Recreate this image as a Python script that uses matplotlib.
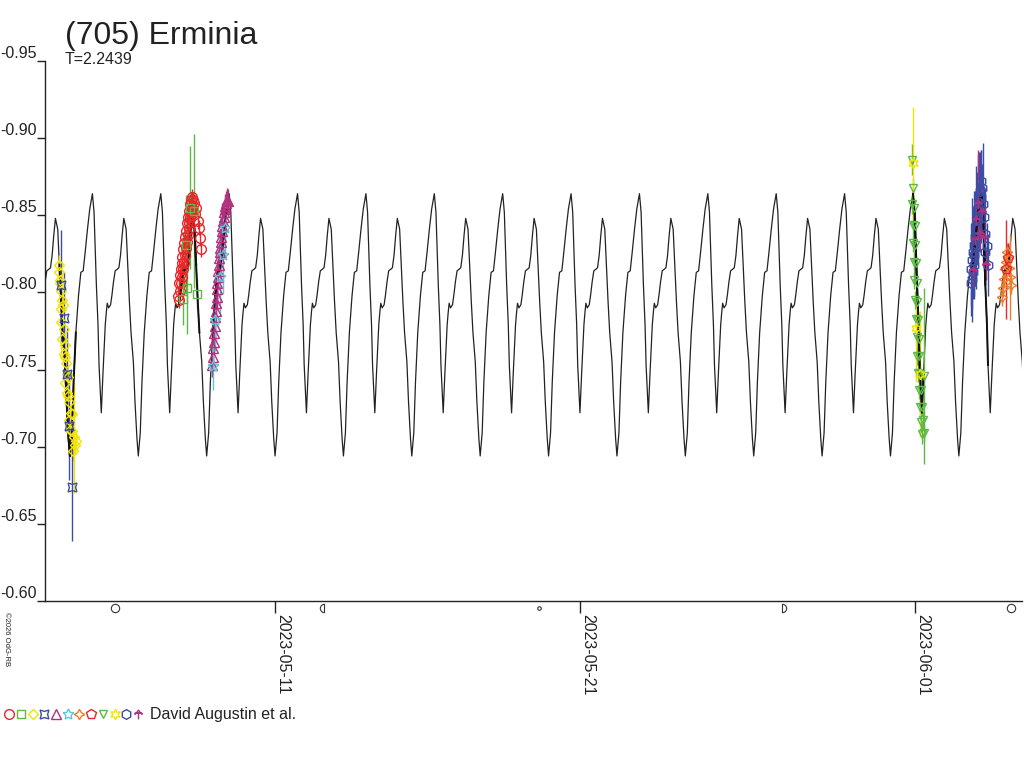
import matplotlib
matplotlib.use('Agg')
import numpy as np
import matplotlib.pyplot as plt
import matplotlib.dates as mdates
from matplotlib.path import Path
from matplotlib.transforms import blended_transform_factory

plt.rcParams['font.family'] = ['Liberation Sans', 'DejaVu Sans']
plt.rcParams['axes.unicode_minus'] = False

# times are days since 2023-05-01 00:00 UT, values are relative magnitudes
t0 = mdates.datestr2num('2023-05-01')
period = 2.2439
epoch = 15.215  # a maximum of the model curve

# one rotation of the model light curve (phase, mag)
prof_phase = [0.000, 0.024, 0.043, 0.058, 0.082, 0.097, 0.116, 0.130, 0.155, 0.188,
              0.203, 0.217, 0.237, 0.266, 0.285, 0.309, 0.333, 0.362, 0.387, 0.411,
              0.435, 0.459, 0.493, 0.517, 0.541, 0.565, 0.599, 0.623, 0.652, 0.671,
              0.700, 0.725, 0.758, 0.797, 0.831, 0.865, 0.894, 0.928, 0.961]
prof_mag = [-0.864, -0.852, -0.826, -0.805, -0.779, -0.753, -0.735, -0.722, -0.748, -0.779,
            -0.787, -0.793, -0.790, -0.792, -0.798, -0.807, -0.814, -0.815, -0.816, -0.824,
            -0.837, -0.848, -0.841, -0.818, -0.794, -0.774, -0.755, -0.729, -0.705, -0.694,
            -0.709, -0.742, -0.774, -0.798, -0.813, -0.814, -0.826, -0.841, -0.854]

# observers
t_red_o = [6.82, 6.83, 6.85, 6.86, 6.88, 6.89, 6.91, 6.92, 6.94, 6.95,
           6.97, 6.98, 7.00, 7.01, 7.03, 7.04, 7.06, 7.07, 7.09, 7.10,
           7.12, 7.13, 7.15, 7.16, 7.18, 7.19, 7.21, 7.22, 7.24, 7.25,
           7.27, 7.29, 7.31, 7.34, 7.37, 7.41, 7.45, 7.49, 7.53, 7.57]
m_red_o = [-0.798, -0.806, -0.795, -0.811, -0.801, -0.815, -0.806, -0.819, -0.810, -0.823,
           -0.815, -0.828, -0.819, -0.832, -0.824, -0.836, -0.829, -0.840, -0.833, -0.845,
           -0.837, -0.849, -0.841, -0.853, -0.845, -0.857, -0.849, -0.860, -0.852, -0.862,
           -0.855, -0.860, -0.853, -0.858, -0.851, -0.855, -0.846, -0.842, -0.835, -0.828]
e_red_o = [0.005] * 40

t_grn_s = [6.98, 7.06, 7.09, 7.20, 7.33, 7.42]
m_grn_s = [-0.796, -0.831, -0.803, -0.855, -0.853, -0.799]
e_grn_s = [0.017, 0.032, 0.030, 0.040, 0.050, 0.010]

t_yel_d = [2.90, 2.94, 2.89, 2.97, 2.92, 3.00, 2.95, 3.03, 2.98, 3.07,
           3.01, 3.10, 3.05, 3.13, 3.08, 3.17, 3.11, 3.20, 3.15, 3.24,
           3.19, 3.28, 3.23, 3.33, 3.27, 3.38, 3.31, 3.43, 3.36, 3.47]
m_yel_d = [-0.818, -0.808, -0.813, -0.801, -0.806, -0.795, -0.789, -0.792, -0.781, -0.776,
           -0.770, -0.766, -0.760, -0.754, -0.758, -0.747, -0.741, -0.745, -0.735, -0.729,
           -0.733, -0.722, -0.717, -0.721, -0.711, -0.706, -0.710, -0.701, -0.697, -0.704]
e_yel_d = [0.006, 0.006, 0.006, 0.006, 0.006, 0.006, 0.029, 0.006, 0.006, 0.006,
           0.006, 0.006, 0.006, 0.006, 0.006, 0.006, 0.006, 0.006, 0.006, 0.006,
           0.006, 0.006, 0.006, 0.006, 0.006, 0.036, 0.006, 0.006, 0.006, 0.006]

t_blu_x = [2.97, 3.07, 3.15, 3.24, 3.32]
m_blu_x = [-0.8045, -0.7833, -0.7472, -0.7136, -0.674]
e_blu_x = [0.036, 0.030, 0.030, 0.035, 0.035]

t_mag_t = [7.93, 7.95, 7.96, 7.98, 7.99, 8.01, 8.02, 8.04, 8.05, 8.07,
           8.08, 8.10, 8.11, 8.13, 8.14, 8.16, 8.17, 8.19, 8.20, 8.22,
           8.24, 8.26, 8.28, 8.30, 8.32, 8.34, 8.36, 8.38, 8.40, 8.43]
m_mag_t = [-0.753, -0.758, -0.764, -0.768, -0.774, -0.778, -0.784, -0.788, -0.793, -0.797,
           -0.802, -0.806, -0.810, -0.814, -0.818, -0.822, -0.826, -0.829, -0.833, -0.836,
           -0.840, -0.843, -0.846, -0.849, -0.852, -0.854, -0.856, -0.858, -0.860, -0.859]
e_mag_t = [0.008, 0.008, 0.015, 0.008, 0.008, 0.008, 0.015, 0.008, 0.008, 0.008,
           0.008, 0.015, 0.008, 0.008, 0.008, 0.008, 0.015, 0.008, 0.008, 0.008,
           0.008, 0.015, 0.008, 0.008, 0.008, 0.008, 0.008, 0.008, 0.008, 0.008]

t_cya_s = [7.96, 8.02, 8.19, 8.27, 8.35]
m_cya_s = [-0.752, -0.782, -0.810, -0.824, -0.842]
e_cya_s = [0.015, 0.020, 0.025, 0.025, 0.020]

t_org_s = [33.86, 33.89, 33.92, 33.95, 33.98, 34.01, 34.04, 34.07, 34.10, 34.13]
m_org_s = [-0.797, -0.803, -0.809, -0.815, -0.820, -0.826, -0.822, -0.816, -0.810, -0.805]
e_org_s = [0.006, 0.006, 0.006, 0.006, 0.006, 0.006, 0.006, 0.006, 0.028, 0.006]

t_red_p = [33.98, 34.05]
m_red_p = [-0.815, -0.822]
e_red_p = [0.032, 0.010]

t_grn_v = [30.90, 30.92, 30.89, 30.96, 30.92, 30.98, 30.93, 31.00, 30.95, 31.02,
           30.97, 31.04, 31.00, 31.06, 31.02, 31.09, 31.04, 31.11, 31.06, 31.13,
           31.08, 31.16, 31.11, 31.19, 31.14, 31.22, 31.17, 31.25, 31.21, 31.29, 31.30]
m_grn_v = [-0.886, -0.868, -0.857, -0.855, -0.844, -0.843, -0.832, -0.831, -0.820, -0.819,
           -0.808, -0.806, -0.795, -0.794, -0.783, -0.782, -0.771, -0.770, -0.759, -0.759,
           -0.748, -0.747, -0.737, -0.737, -0.726, -0.726, -0.716, -0.717, -0.708, -0.709, -0.746]
e_grn_v = [0.010] + [0.006] * 29 + [0.057]

t_yel_s = [30.93, 31.03, 31.16]
m_yel_s = [-0.884, -0.777, -0.747]
e_yel_s = [0.036, 0.035, 0.041]

t_blu_h = [32.82, 32.84, 32.85, 32.87, 32.88, 32.90, 32.91, 32.93, 32.94, 32.96,
           32.97, 32.99, 33.00, 33.02, 33.03, 33.05, 33.06, 33.08, 33.09, 33.11,
           33.12, 33.14, 33.16, 33.18, 33.21, 33.24, 33.27, 33.30, 33.35, 33.40]
m_blu_h = [-0.806, -0.815, -0.809, -0.821, -0.813, -0.826, -0.818, -0.831, -0.824, -0.836,
           -0.829, -0.842, -0.835, -0.848, -0.841, -0.855, -0.847, -0.861, -0.853, -0.866,
           -0.858, -0.872, -0.862, -0.868, -0.857, -0.849, -0.838, -0.826, -0.830, -0.818]
e_blu_h = [0.015, 0.030, 0.020, 0.040, 0.015, 0.030, 0.020, 0.035, 0.015, 0.030,
           0.020, 0.040, 0.015, 0.030, 0.020, 0.035, 0.015, 0.030, 0.020, 0.025,
           0.015, 0.020, 0.030, 0.015, 0.040, 0.020, 0.030, 0.020, 0.015, 0.020]

t_mag_a = [32.89, 32.95, 33.00, 33.05, 33.11, 33.18, 33.25, 33.31]
m_mag_a = [-0.814, -0.834, -0.847, -0.857, -0.838, -0.852, -0.835, -0.818]
e_mag_a = [0.010, 0.012, 0.010, 0.035, 0.012, 0.015, 0.010, 0.010]

moon_days = [4.73, 11.60, 18.66, 26.64, 34.15]
moon_kind = ['full', 'last', 'new', 'first', 'full']

date_ticks = ['2023-05-11', '2023-05-21', '2023-06-01']
y_ticks = [-0.95, -0.90, -0.85, -0.80, -0.75, -0.70, -0.65, -0.60]


# marker shapes
def ankh_marker():
    verts = [(0, 0.9), (-0.45, 0.3), (0.45, 0.3), (0, 0.9),
             (-0.8, 0.3), (0.8, 0.3),
             (-0.7, 0.3), (-0.7, -0.1),
             (0.7, 0.3), (0.7, -0.1),
             (0, 0.3), (0, -1.0)]
    codes = [Path.MOVETO, Path.LINETO, Path.LINETO, Path.CLOSEPOLY,
             Path.MOVETO, Path.LINETO,
             Path.MOVETO, Path.LINETO,
             Path.MOVETO, Path.LINETO,
             Path.MOVETO, Path.LINETO]
    return Path(verts, codes)


def half_disc(a1, a2):
    arc = Path.arc(a1, a2)
    v = np.vstack([arc.vertices, arc.vertices[:1]])
    c = list(arc.codes) + [Path.CLOSEPOLY]
    return Path(v, c)


RED = '#e8262b'
GRN = '#5cb946'
YEL = '#f2e400'
BLU = '#3b4ea3'
MAG = '#b3307f'
CYA = '#5fc6d8'
ORG = '#f07d2a'

series = [
    (t_red_o, m_red_o, e_red_o, 'o', 7.0, RED),
    (t_grn_s, m_grn_s, e_grn_s, 's', 5.4, GRN),
    (t_yel_d, m_yel_d, e_yel_d, 'D', 5.2, YEL),
    (t_blu_x, m_blu_x, e_blu_x, (4, 1, 45), 9.0, BLU),
    (t_mag_t, m_mag_t, e_mag_t, '^', 6.5, MAG),
    (t_cya_s, m_cya_s, e_cya_s, (5, 1, 0), 8.0, CYA),
    (t_org_s, m_org_s, e_org_s, (4, 1, 0), 7.5, ORG),
    (t_red_p, m_red_p, e_red_p, 'p', 7.0, RED),
    (t_grn_v, m_grn_v, e_grn_v, 'v', 6.0, GRN),
    (t_yel_s, m_yel_s, e_yel_s, (6, 1, 0), 7.5, YEL),
    (t_blu_h, m_blu_h, e_blu_h, 'h', 7.0, BLU),
    (t_mag_a, m_mag_a, e_mag_a, ankh_marker(), 7.0, MAG),
]

fig = plt.figure(figsize=(10.24, 7.68), dpi=100)
ax = fig.add_axes([45 / 1024, 1 - 601 / 768, 977 / 1024, 540 / 768])

# model curve, the read rotation repeated
ph = np.array(prof_phase)
cyc = np.arange(-6, 12)
t_model = (epoch + (cyc[:, None] + ph[None, :]) * period).ravel()
m_model = np.tile(prof_mag, len(cyc))
ax.plot(t0 + t_model, m_model, color='#222222', lw=0.9, zorder=2)

for t, m, e, mk, ms, col in series:
    ax.errorbar(t0 + np.array(t), m, yerr=e, fmt='none', ecolor=col, elinewidth=1.0,
                capsize=0, zorder=3)
    ax.plot(t0 + np.array(t), m, ls='none', marker=mk, ms=ms, mfc='none', mec=col,
            mew=1.0, zorder=4)
    # model drawn a little thicker across each observing run
    sel = (t_model >= min(t)) & (t_model <= max(t))
    if sel.sum() > 1:
        ax.plot(t0 + t_model[sel], m_model[sel], color='#111111', lw=1.4, zorder=3.5)

# moon phases under the axis
trans = blended_transform_factory(ax.transData, ax.transAxes)
for d, k in zip(moon_days, moon_kind):
    if k == 'full':
        mk, ms = 'o', 6
    elif k == 'new':
        mk, ms = 'o', 2.5
    elif k == 'first':
        mk, ms = half_disc(-90, 90), 6
    else:
        mk, ms = half_disc(90, 270), 6
    ax.plot([t0 + d], [-0.013], transform=trans, marker=mk, ms=ms, mfc='none',
            mec='#333333', mew=0.8, clip_on=False)

ax.set_xlim(t0 + 2.44, t0 + 34.50)
ax.set_ylim(-0.60, -0.95)

ax.set_xticks(mdates.datestr2num(date_ticks))
ax.set_xticklabels(date_ticks, rotation=-90, ha='left', va='top', fontsize=11.5,
                   color='#222222')
ax.tick_params(axis='x', length=8.5, width=1, pad=0.8, color='#222222')

ax.set_yticks(y_ticks)
ax.set_yticklabels(['%.2f' % v for v in y_ticks], fontsize=11.5, color='#222222')
ax.tick_params(axis='y', length=6, width=1, pad=0, color='#222222')
for lab in ax.get_yticklabels():
    lab.set_verticalalignment('bottom')

for s in ['top', 'right']:
    ax.spines[s].set_visible(False)
for s in ['left', 'bottom']:
    ax.spines[s].set_color('#222222')
    ax.spines[s].set_linewidth(1)

fig.text(65 / 1024, 1 - 44 / 768, '(705) Erminia', fontsize=23, color='#222222',
         va='baseline', ha='left')
fig.text(65 / 1024, 1 - 64 / 768, 'T=2.2439', fontsize=11.5, color='#222222',
         va='baseline', ha='left')
fig.text(3 / 1024, 1 - 612 / 768, '\u00a92026 OdG-RB', fontsize=5.5, color='#222222',
         rotation=-90, ha='left', va='top')

# observer key row
lax = fig.add_axes([0, 0, 1, 1])
lax.set_xlim(0, 1024)
lax.set_ylim(768, 0)
lax.axis('off')
for i, (t, m, e, mk, ms, col) in enumerate(series):
    lax.plot([9.3 + 11.7 * i], [713.5], ls='none', marker=mk, ms=ms, mfc='none',
             mec=col, mew=1.0)
lax.text(150, 719, 'David Augustin et al.', fontsize=11.5, color='#222222',
         va='baseline', ha='left')

fig.savefig('out.png', dpi=100)
